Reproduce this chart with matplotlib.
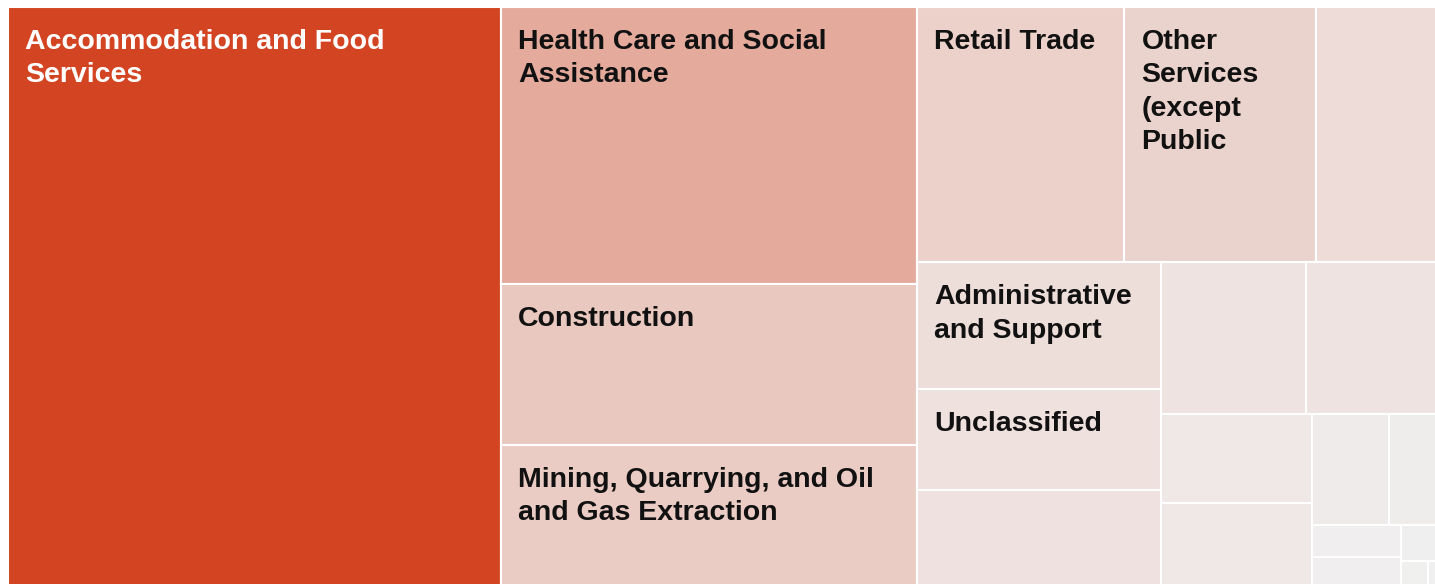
import matplotlib
matplotlib.use("Agg")
import matplotlib.pyplot as plt
from matplotlib.patches import Rectangle
from matplotlib.colors import to_rgb

# industry totals (relative sizes), sorted largest first
industries = [
    "Accommodation and Food Services", "Health Care and Social Assistance",
    "Construction", "Mining, Quarrying, and Oil and Gas Extraction",
    "Retail Trade", "Other Services (except Public Administration)",
    "other 7", "Administrative and Support", "Unclassified", "other 10",
    "other 11", "other 12", "other 13", "other 14", "other 15", "other 16",
    "other 17", "other 18", "other 19", "other 20", "other 21",
]
values = [287.4, 115.2, 67.0, 60.3, 52.9, 49.0, 32.8, 31.0, 24.6, 24.4,
          22.0, 21.1, 13.4, 13.1, 8.5, 6.2, 2.9, 2.9, 1.6, 0.8, 0.5]
# text shown inside the cells (wrapped / truncated as in the picture)
labels = [
    "Accommodation and Food\nServices", "Health Care and Social\nAssistance",
    "Construction", "Mining, Quarrying, and Oil\nand Gas Extraction",
    "Retail Trade", "Other\nServices\n(except\nPublic",
    "", "Administrative\nand Support", "Unclassified",
    "", "", "", "", "", "", "", "", "", "", "", "",
]

LOW = to_rgb("#F0F0F0")
HIGH = to_rgb("#D34522")
PHI = (1 + 5 ** 0.5) / 2


def squarify(vals, x0, y0, x1, y1, ratio=PHI):
    # squarified layout (same rule as d3.treemapSquarify), y grows downward
    rects = []
    total = float(sum(vals))
    i0 = 0
    n = len(vals)
    while i0 < n:
        dx = x1 - x0
        dy = y1 - y0
        s = vals[i0]
        vmin = vmax = s
        alpha = max(dy / dx, dx / dy) / (total * ratio)
        beta = s * s * alpha
        best = max(vmax / beta, beta / vmin)
        i1 = i0 + 1
        while i1 < n:
            v = vals[i1]
            s2 = s + v
            mn = min(vmin, v)
            mx = max(vmax, v)
            beta = s2 * s2 * alpha
            r = max(mx / beta, beta / mn)
            if r > best:
                break
            s, vmin, vmax, best = s2, mn, mx, r
            i1 += 1
        row = vals[i0:i1]
        if dx < dy:
            h = dy * s / total
            x = x0
            for v in row:
                w = dx * v / s
                rects.append((x, y0, w, h))
                x += w
            y0 += h
        else:
            w = dx * s / total
            y = y0
            for v in row:
                h = dy * v / s
                rects.append((x0, y, w, h))
                y += h
            x0 += w
        total -= s
        i0 = i1
    return rects


def cell_color(v, vmax):
    t = v / vmax
    return tuple(LOW[k] + (HIGH[k] - LOW[k]) * t for k in range(3))


fig = plt.figure(figsize=(14.35, 5.84), dpi=100)
ax = fig.add_axes([0, 0, 1, 1])
ax.set_xlim(0, 1435)
ax.set_ylim(584, 0)
ax.axis("off")

# the treemap runs a bit past the right and bottom edges of the view
rects = squarify(values, 8, 7, 1445, 590)
vmax = max(values)

for (x, y, w, h), v, lab in zip(rects, values, labels):
    ax.add_patch(Rectangle((x, y), w, h, facecolor=cell_color(v, vmax),
                           edgecolor="white", linewidth=1.5))
    if lab:
        col = "white" if v == vmax else "#111111"
        ax.text(x + 17, y + 22, lab, ha="left", va="top", color=col,
                fontsize=20.5, fontweight="bold", linespacing=1.37,
                family=["Liberation Sans", "DejaVu Sans"])

fig.savefig("out.png", dpi=100)
